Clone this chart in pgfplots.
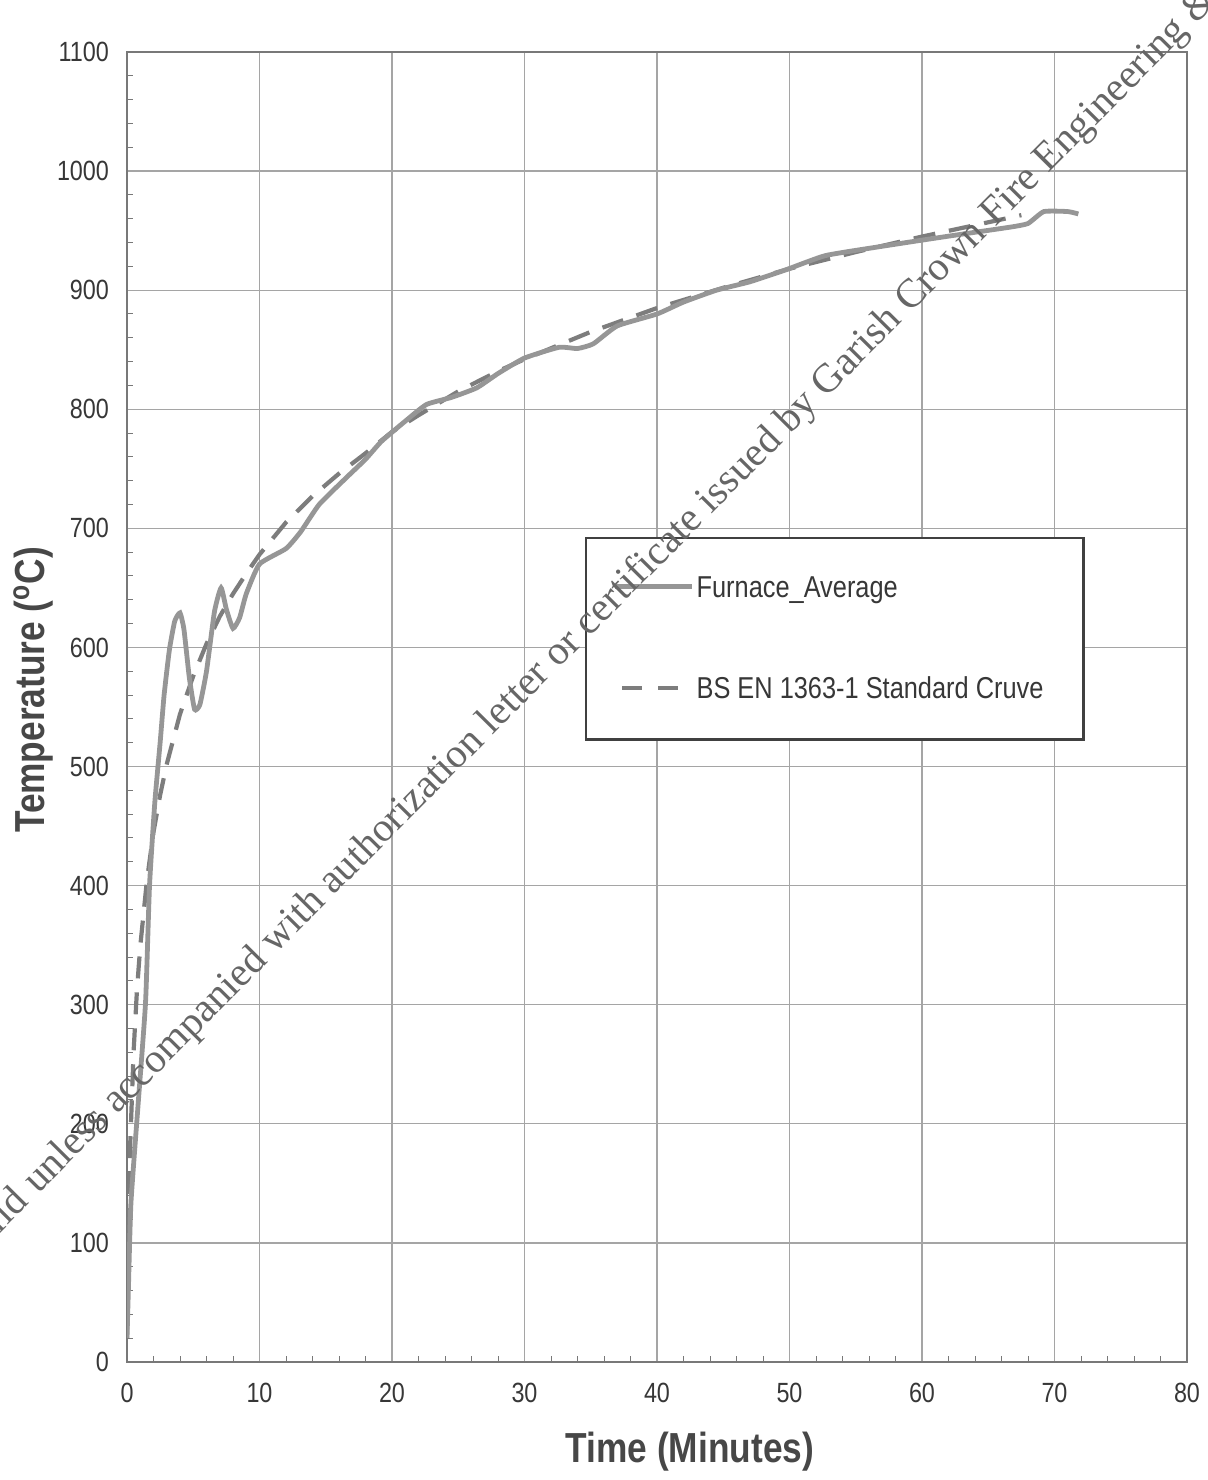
\documentclass[border=0pt]{standalone}
\usepackage{pgfplots}
\pgfplotsset{compat=1.18}
\usepackage{fontspec}
\setmainfont{Liberation Sans}[FakeStretch=0.84]
\newfontfamily\wmfont{Liberation Serif}
\definecolor{furn}{RGB}{150,150,150}
\definecolor{stdc}{RGB}{125,125,125}
\definecolor{gridc}{RGB}{165,165,165}
\definecolor{txt}{RGB}{55,55,55}
\definecolor{framec}{RGB}{120,120,120}
\begin{document}
\begin{tikzpicture}
\useasboundingbox (0,0) rectangle (604bp,740bp);
\begin{axis}[
  at={(63.5bp,59bp)}, anchor=south west,
  width=530bp, height=655bp, scale only axis,
  xmin=0, xmax=80, ymin=0, ymax=1100,
  xtick={0,10,...,80}, ytick={0,100,...,1100},
  minor x tick num=4, minor y tick num=4,
  tick pos=left,
  major tick length=0pt, minor tick length=3bp,
  tick style={framec, line width=0.5bp},
  grid=major, major grid style={gridc, line width=0.6bp},
  axis line style={framec, line width=0.7bp},
  ticklabel style={font=\fontsize{13.9bp}{16bp}\selectfont, text=txt},
  /pgf/number format/assume math mode=true,
  /pgf/number format/1000 sep={},
  xticklabel style={yshift=-7bp},
  yticklabel style={xshift=-5.5bp},
  xlabel={Time (Minutes)},
  ylabel={Temperature (\textsuperscript{o}C)},
  label style={font=\bfseries\fontsize{21bp}{24bp}\selectfont, text=black!72},
  xlabel style={at={(axis description cs:0.531,-0.0687)}, anchor=center},
  ylabel style={at={(axis description cs:-0.0887,0.513)}, anchor=center},
]
% BS EN 1363-1 standard curve (dashed)
\addplot[stdc, line width=2.1bp, dash pattern=on 11bp off 7bp] coordinates {
(0,20) (0.25,185) (0.5,261) (0.75,312) (1,349) (1.5,404) (2,445) (2.5,476)
(3,502) (4,544) (5,576) (6,603) (7,626) (8,645) (9,662) (10,678) (12,705)
(14,727) (16,746) (18,763) (20,781) (22,795) (25,815) (28,832) (30,842)
(35,865) (40,885) (45,902) (50,918) (55,932) (60,945) (65,957) (67.5,963)
};
% Furnace average (solid)
\addplot[furn, line width=2.4bp, smooth, tension=0.3] coordinates {
(0,20) (0.1,59) (0.3,134) (0.85,218) (1.4,302) (1.7,400) (2.1,470) (2.5,520)
(2.8,560) (3.2,598) (3.6,622) (4.0,629) (4.3,615) (4.7,575) (5.1,548)
(5.5,552) (6.0,580) (6.6,630) (7.1,650) (7.5,632) (8.0,616) (8.5,625)
(9.0,645) (10,670) (12,683) (13.1,697) (14.5,720) (16.5,742) (18,758)
(19.2,773) (21,790) (22.6,804) (24.5,810) (26.4,818) (28,830) (30,843)
(32.6,852) (34,851) (35.2,855) (37,870) (40,880) (42,890) (44.5,900)
(47,907) (49.7,917) (52.7,929) (56.5,936) (60,942) (63,947) (66.7,953)
(68,956) (69.2,966) (71,966) (71.8,964)
};
% legend
\draw[draw=black!75, line width=1.4bp, fill=white]
  (axis description cs:0.433,0.629) rectangle (axis description cs:0.902,0.475);
\draw[furn, line width=2.4bp]
  (axis description cs:0.460,0.592) -- (axis description cs:0.533,0.592);
\node[anchor=base west, inner sep=0pt, yshift=-5.4bp, text=txt,
      font=\fontsize{15.1bp}{17bp}\selectfont]
  at (axis description cs:0.537,0.592) {Furnace\_Average};
\draw[stdc, line width=2.1bp, dash pattern=on 10bp off 8bp]
  (axis description cs:0.467,0.5145) -- (axis description cs:0.522,0.5145);
\node[anchor=base west, inner sep=0pt, yshift=-5.4bp, text=txt,
      font=\fontsize{15.1bp}{17bp}\selectfont]
  at (axis description cs:0.537,0.5145) {BS EN 1363-1 Standard Cruve};
\end{axis}
% watermark
\node[rotate=45.3, anchor=base west, inner sep=0pt, text=black!60,
      font=\wmfont\fontsize{20.4bp}{20.4bp}\selectfont] at (19bp,142.5bp)
  {unless accompanied with authorization letter or certificate issued by Garish Crown Fire Engineering \& Co.};
\node[rotate=45.3, anchor=base east, inner sep=0pt, text=black!60,
      font=\wmfont\fontsize{20.4bp}{20.4bp}\selectfont] at (19bp,142.5bp)
  {Invalid\kern0.28em};
\end{tikzpicture}
\end{document}
